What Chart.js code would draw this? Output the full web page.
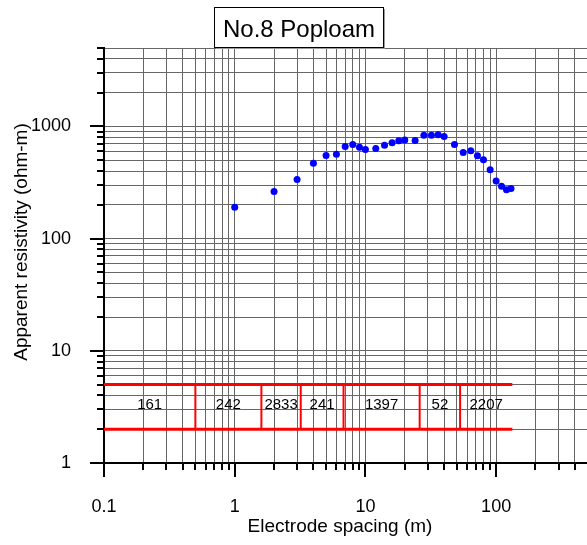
<!DOCTYPE html>
<html>
<head>
<meta charset="utf-8">
<script src="https://cdn.jsdelivr.net/npm/chart.js@4/dist/chart.umd.min.js"></script>
<style>
html, body { margin:0; padding:0; background:#fff; overflow:hidden; }
canvas { display:block; }
</style>
</head>
<body>
<canvas id="vesChart" width="591" height="545"></canvas>
<script>
// field curve: electrode spacing (m) / apparent resistivity (ohm-m)
const spacing = [1,2,3,4,5,6,7,8,9,10,12,14,16,18,20,24,28,32,36,40,48,56,64,72,80,90,100,110,120,130];
const rhoApp  = [190,263,336,470,551,566,663,691,653,623,636,681,715,745,755,750,836,836,843,814,691,586,607,548,504,411,327,293,272,279];

// layered model (boundaries in m, resistivity of each layer)
const layerBounds = [0.1,0.5,1.6,3.2,6.8,26,53,133];
const layerRho = ['161','242','2833','241','1397','52','2207'];
const bandLow = 2, bandHigh = 5, labelLevel = 3.3;

// axes
const xDecades = [0.1,1,10,100];
const yDecades = [1,10,100,1000];
const xTickLabels = ['0.1','1','10','100'];
const yTickLabels = ['1','10','100','1000'];
const xMin = 0.1, xMax = 500, yMin = 1, yMax = 5000;

const FONT = "'Liberation Sans', Arial, sans-serif";

function gridValues(decades, max) {
    let out = [];
    for (let i = 0; i < decades.length; i++) {
        for (let m = 1; m <= 9; m++) {
            let v = +(decades[i] * m).toPrecision(6);
            if (v <= max) out.push(v);
        }
    }
    return out;
}
const xGrid = gridValues(xDecades, xMax);
const yGrid = gridValues(yDecades, yMax);

function isDecade(v) {
    let l = Math.log10(v);
    return Math.abs(l - Math.round(l)) < 1e-9;
}

// red model box built from the layer arrays
let bandTop = [{x: layerBounds[0], y: bandHigh}, {x: layerBounds[layerBounds.length-1], y: bandHigh}];
let bandBot = [{x: layerBounds[0], y: bandLow}, {x: layerBounds[layerBounds.length-1], y: bandLow}];
let walls = [];
for (let i = 1; i < layerBounds.length - 1; i++) {
    walls.push({x: layerBounds[i], y: bandLow});
    walls.push({x: layerBounds[i], y: bandHigh});
    walls.push({x: layerBounds[i], y: null});
}
let points = spacing.map((s, i) => ({x: s, y: rhoApp[i]}));

const extras = {
    id: 'extras',
    afterDraw(chart) {
        const ctx = chart.ctx;
        const xs = chart.scales.x, ys = chart.scales.y;
        const area = chart.chartArea;
        ctx.save();

        // tick marks, longer on decades
        ctx.strokeStyle = '#000';
        ctx.lineWidth = 2;
        ctx.beginPath();
        xs.ticks.forEach(t => {
            let px = Math.round(xs.getPixelForValue(t.value));
            let len = isDecade(t.value) ? 14 : 7;
            ctx.moveTo(px, area.bottom);
            ctx.lineTo(px, area.bottom + len);
        });
        ys.ticks.forEach(t => {
            let py = Math.round(ys.getPixelForValue(t.value));
            let len = isDecade(t.value) ? 14 : 7;
            ctx.moveTo(area.left - len, py);
            ctx.lineTo(area.left, py);
        });
        ctx.stroke();

        // layer resistivities
        ctx.fillStyle = '#000';
        ctx.font = '15px ' + FONT;
        ctx.textAlign = 'center';
        ctx.textBaseline = 'middle';
        for (let i = 0; i < layerRho.length; i++) {
            let mid = Math.sqrt(layerBounds[i] * layerBounds[i+1]);
            ctx.fillText(layerRho[i], xs.getPixelForValue(mid), ys.getPixelForValue(labelLevel));
        }

        // axis titles
        ctx.font = '19px ' + FONT;
        ctx.fillText('Electrode spacing (m)', 340, 527);
        ctx.save();
        ctx.translate(22, 242);
        ctx.rotate(-Math.PI / 2);
        ctx.fillText('Apparent resistivity (ohm-m)', 0, 0);
        ctx.restore();

        // title box
        ctx.fillStyle = '#9a9a9a';
        ctx.fillRect(216, 9, 169, 40);
        ctx.fillStyle = '#fff';
        ctx.fillRect(214, 7, 169, 40);
        ctx.strokeStyle = '#000';
        ctx.lineWidth = 1;
        ctx.strokeRect(214.5, 7.5, 169, 40);
        ctx.fillStyle = '#000';
        ctx.font = '24px ' + FONT;
        ctx.textBaseline = 'alphabetic';
        ctx.fillText('No.8 Poploam', 299, 37);
        ctx.restore();
    }
};

let ctx = document.getElementById('vesChart');
let vesChart = new Chart(ctx, {
    type: 'scatter',
    data: {
        datasets: [{
            label: 'field',
            data: points,
            backgroundColor: '#0000ff',
            borderWidth: 0,
            pointRadius: 3.5,
            pointHoverRadius: 3.5
        }, {
            label: 'top',
            data: bandTop,
            showLine: true,
            borderColor: '#ff0000',
            borderWidth: 3,
            pointRadius: 0
        }, {
            label: 'bottom',
            data: bandBot,
            showLine: true,
            borderColor: '#ff0000',
            borderWidth: 3,
            pointRadius: 0
        }, {
            label: 'walls',
            data: walls,
            showLine: true,
            spanGaps: false,
            borderColor: '#ff0000',
            borderWidth: 2,
            pointRadius: 0
        }]
    },
    options: {
        responsive: false,
        animation: false,
        events: [],
        layout: { padding: { top: 48, right: 2, left: 0, bottom: 0 } },
        plugins: {
            legend: { display: false },
            title: { display: false },
            tooltip: { enabled: false }
        },
        scales: {
            x: {
                type: 'logarithmic',
                min: xMin,
                max: xMax,
                afterBuildTicks: s => { s.ticks = xGrid.map(v => ({value: v})); },
                afterFit: s => { s.height = 82; s.paddingLeft = 0; s.paddingRight = 0; },
                grid: { color: '#666', lineWidth: 1, drawTicks: false },
                border: { display: true, color: '#000', width: 2 },
                ticks: {
                    autoSkip: false,
                    maxRotation: 0,
                    padding: 33,
                    color: '#000',
                    font: { family: FONT, size: 18 },
                    callback: v => { let i = xDecades.indexOf(v); return i >= 0 ? xTickLabels[i] : ''; }
                }
            },
            y: {
                type: 'logarithmic',
                min: yMin,
                max: yMax,
                afterBuildTicks: s => { s.ticks = yGrid.map(v => ({value: v})); },
                afterFit: s => { s.width = 104; s.paddingTop = 0; s.paddingBottom = 0; },
                grid: { color: '#666', lineWidth: 1, drawTicks: false },
                border: { display: true, color: '#000', width: 2 },
                ticks: {
                    autoSkip: false,
                    padding: 33,
                    color: '#000',
                    font: { family: FONT, size: 18 },
                    callback: v => { let i = yDecades.indexOf(v); return i >= 0 ? yTickLabels[i] : ''; }
                }
            }
        }
    },
    plugins: [extras]
});
</script>
</body>
</html>
